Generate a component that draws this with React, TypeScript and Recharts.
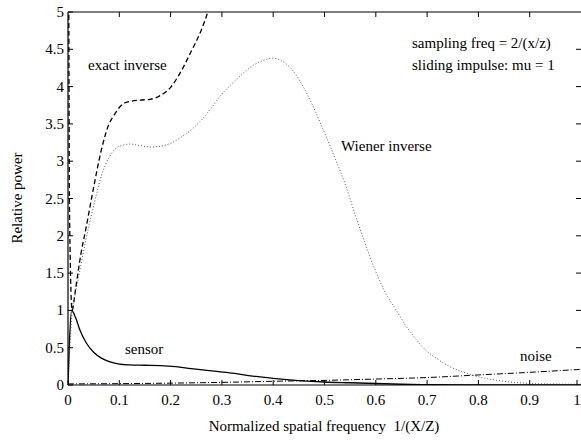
import React from 'react';
import { LineChart, Line, XAxis, YAxis, ReferenceLine } from 'recharts';

const xTicks = [0, 0.1, 0.2, 0.3, 0.4, 0.5, 0.6, 0.7, 0.8, 0.9, 1];
const yTicks = [0, 0.5, 1, 1.5, 2, 2.5, 3, 3.5, 4, 4.5, 5];

const exactInverse = [
  { x: 0.001, y: 7 }, { x: 0.003, y: 2.3 }, { x: 0.008, y: 1.0 }, { x: 0.015, y: 1.3 },
  { x: 0.025, y: 1.75 }, { x: 0.035, y: 2.1 }, { x: 0.05, y: 2.65 }, { x: 0.065, y: 3.15 },
  { x: 0.08, y: 3.5 }, { x: 0.09, y: 3.62 }, { x: 0.1, y: 3.72 }, { x: 0.11, y: 3.78 },
  { x: 0.12, y: 3.8 }, { x: 0.14, y: 3.82 }, { x: 0.16, y: 3.83 }, { x: 0.18, y: 3.88 },
  { x: 0.2, y: 3.99 }, { x: 0.22, y: 4.2 }, { x: 0.24, y: 4.47 }, { x: 0.26, y: 4.76 },
  { x: 0.275, y: 5.05 }, { x: 0.29, y: 5.4 },
];

const wienerInverse = [
  { x: 0, y: 0 }, { x: 0.008, y: 0.98 }, { x: 0.015, y: 1.25 }, { x: 0.025, y: 1.6 },
  { x: 0.035, y: 1.95 }, { x: 0.05, y: 2.4 }, { x: 0.065, y: 2.8 }, { x: 0.08, y: 3.05 },
  { x: 0.09, y: 3.15 }, { x: 0.1, y: 3.2 }, { x: 0.11, y: 3.22 }, { x: 0.12, y: 3.23 },
  { x: 0.14, y: 3.21 }, { x: 0.16, y: 3.19 }, { x: 0.18, y: 3.2 }, { x: 0.2, y: 3.24 },
  { x: 0.22, y: 3.32 }, { x: 0.24, y: 3.42 }, { x: 0.26, y: 3.55 }, { x: 0.28, y: 3.72 },
  { x: 0.3, y: 3.9 }, { x: 0.32, y: 4.04 }, { x: 0.34, y: 4.17 }, { x: 0.36, y: 4.28 },
  { x: 0.38, y: 4.35 }, { x: 0.4, y: 4.38 }, { x: 0.42, y: 4.33 }, { x: 0.44, y: 4.2 },
  { x: 0.46, y: 3.98 }, { x: 0.48, y: 3.7 }, { x: 0.5, y: 3.38 }, { x: 0.52, y: 3.05 },
  { x: 0.54, y: 2.7 }, { x: 0.56, y: 2.28 }, { x: 0.58, y: 1.88 }, { x: 0.6, y: 1.52 },
  { x: 0.62, y: 1.22 }, { x: 0.64, y: 1.0 }, { x: 0.66, y: 0.78 }, { x: 0.68, y: 0.6 },
  { x: 0.7, y: 0.45 }, { x: 0.72, y: 0.35 }, { x: 0.74, y: 0.26 }, { x: 0.76, y: 0.2 },
  { x: 0.78, y: 0.15 }, { x: 0.8, y: 0.11 }, { x: 0.82, y: 0.08 }, { x: 0.84, y: 0.06 },
  { x: 0.86, y: 0.04 }, { x: 0.88, y: 0.03 }, { x: 0.9, y: 0.02 }, { x: 0.95, y: 0.012 },
  { x: 1.0, y: 0.01 },
];

const sensor = [
  { x: 0, y: 0 }, { x: 0.003, y: 0.6 }, { x: 0.007, y: 1.0 }, { x: 0.015, y: 0.9 },
  { x: 0.023, y: 0.74 }, { x: 0.036, y: 0.56 }, { x: 0.05, y: 0.44 }, { x: 0.065, y: 0.36 },
  { x: 0.082, y: 0.31 }, { x: 0.1, y: 0.28 }, { x: 0.12, y: 0.27 }, { x: 0.15, y: 0.265 },
  { x: 0.18, y: 0.26 }, { x: 0.21, y: 0.245 }, { x: 0.24, y: 0.22 }, { x: 0.28, y: 0.19 },
  { x: 0.32, y: 0.16 }, { x: 0.36, y: 0.12 }, { x: 0.4, y: 0.09 }, { x: 0.45, y: 0.06 },
  { x: 0.5, y: 0.04 }, { x: 0.55, y: 0.03 }, { x: 0.6, y: 0.02 }, { x: 0.65, y: 0.01 },
  { x: 0.7, y: 0.005 }, { x: 0.8, y: 0 }, { x: 1.0, y: 0 },
];

const noise = [
  { x: 0, y: 0.015 }, { x: 0.1, y: 0.018 }, { x: 0.2, y: 0.025 }, { x: 0.3, y: 0.035 },
  { x: 0.4, y: 0.05 }, { x: 0.5, y: 0.062 }, { x: 0.6, y: 0.08 }, { x: 0.7, y: 0.1 },
  { x: 0.8, y: 0.135 }, { x: 0.9, y: 0.17 }, { x: 1.0, y: 0.21 },
];

const FONT = '"Liberation Serif", Tinos, "Times New Roman", "DejaVu Serif", serif';
const textStyle: React.CSSProperties = { fontFamily: FONT, fontSize: 15 };

const fmt = (v: number) => String(v);

const BottomTick = (props: any) => {
  const { x, y, payload } = props;
  return (
    <g>
      <line x1={x} x2={x} y1={y} y2={y - 5} stroke="#000" strokeWidth={1} />
      <text x={x} y={y + 20} textAnchor="middle" style={textStyle} fill="#000">
        {fmt(payload.value)}
      </text>
    </g>
  );
};

const LeftTick = (props: any) => {
  const { x, y, payload } = props;
  return (
    <g>
      <line x1={x} x2={x + 5} y1={y} y2={y} stroke="#000" strokeWidth={1} />
      <text x={x - 4} y={y + 5} textAnchor="end" style={textStyle} fill="#000">
        {fmt(payload.value)}
      </text>
    </g>
  );
};

// small inward tick at the top frame, positioned by the library's x-scale
const TopTickShape = (props: any) => {
  const { x1, y1, y2 } = props;
  const top = Math.min(y1, y2);
  return <line x1={x1} x2={x1} y1={top} y2={top + 5} stroke="#000" strokeWidth={1} />;
};

// small inward tick at the right frame, positioned by the library's y-scale
const RightTickShape = (props: any) => {
  const { x1, x2, y1 } = props;
  const right = Math.max(x1, x2);
  return <line x1={right} x2={right - 5} y1={y1} y2={y1} stroke="#000" strokeWidth={1} />;
};

export default function App() {
  return (
    <div style={{ position: 'absolute', left: 0, top: 0, background: '#fff' }}>
      <LineChart width={581} height={440} margin={{ top: 12, right: 0, bottom: 0, left: 0 }}>
        <XAxis
          dataKey="x"
          type="number"
          domain={[0, 1]}
          ticks={xTicks}
          height={55}
          tickSize={0}
          tickMargin={0}
          tickLine={false}
          axisLine={{ stroke: '#000', strokeWidth: 1.2 }}
          tick={<BottomTick />}
          allowDataOverflow
        />
        <YAxis
          type="number"
          domain={[0, 5]}
          ticks={yTicks}
          width={68}
          tickSize={0}
          tickMargin={0}
          tickLine={false}
          axisLine={{ stroke: '#000', strokeWidth: 1.2 }}
          tick={<LeftTick />}
          allowDataOverflow
        />
        <ReferenceLine y={5} stroke="#000" strokeWidth={1.2} />
        {xTicks.slice(1, 10).map((v) => (
          <ReferenceLine key={'tx' + v} x={v} shape={TopTickShape} />
        ))}
        {yTicks.slice(1, 10).map((v) => (
          <ReferenceLine key={'ry' + v} y={v} shape={RightTickShape} />
        ))}
        <Line data={noise} dataKey="y" type="monotone" stroke="#000" strokeWidth={1}
          strokeDasharray="6 2 1 2" dot={false} isAnimationActive={false} />
        <Line data={sensor} dataKey="y" type="monotone" stroke="#000" strokeWidth={1.3}
          dot={false} isAnimationActive={false} />
        <Line data={wienerInverse} dataKey="y" type="monotone" stroke="#555" strokeWidth={1}
          strokeDasharray="1 2" dot={false} isAnimationActive={false} />
        <Line data={exactInverse} dataKey="y" type="monotone" stroke="#000" strokeWidth={1.3}
          strokeDasharray="5 3" dot={false} isAnimationActive={false} />
        <text x={88} y={70} style={textStyle} fill="#000">exact inverse</text>
        <text x={412} y={48} style={textStyle} fill="#000">sampling freq = 2/(x/z)</text>
        <text x={412} y={70} style={textStyle} fill="#000">sliding impulse: mu = 1</text>
        <text x={341} y={151} style={textStyle} fill="#000">Wiener inverse</text>
        <text x={125} y={354} style={textStyle} fill="#000">sensor</text>
        <text x={520} y={361} style={textStyle} fill="#000">noise</text>
        <text x={324} y={431} textAnchor="middle" style={textStyle} fill="#000" xmlSpace="preserve">
          Normalized spatial frequency  1/(X/Z)
        </text>
        <text x={22} y={198} textAnchor="middle" style={textStyle} fill="#000"
          transform="rotate(-90 22 198)">
          Relative power
        </text>
      </LineChart>
    </div>
  );
}
